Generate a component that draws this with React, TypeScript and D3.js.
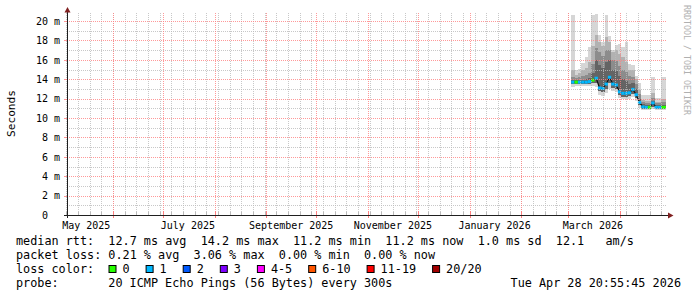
import React from "react";
import * as d3 from "d3";

const WIDTH = 697;
const HEIGHT = 297;
const FONT = "DejaVu Sans Mono, monospace";

// graph covers 360 days ending at the graph timestamp
const END_TIME = new Date(2026, 3, 28, 20, 55, 45);
const START_TIME = new Date(END_TIME.getTime() - 360 * 86400000);

// y axis (milliseconds)
const Y_TICKS = [0, 2, 4, 6, 8, 10, 12, 14, 16, 18, 20];
const Y_TICK_LABELS = ["0", "2 m", "4 m", "6 m", "8 m", "10 m", "12 m", "14 m", "16 m", "18 m", "20 m"];
const Y_MINOR = [1, 3, 5, 7, 9, 11, 13, 15, 17, 19];

// x axis labels (every second month)
const X_LABEL_MONTHS = ["2025-05", "2025-07", "2025-09", "2025-11", "2026-01", "2026-03"];
const X_LABELS = ["May 2025", "July 2025", "September 2025", "November 2025", "January 2026", "March 2026"];

// consolidated 2-day bins of ping data (ms)
const BIN_DAYS = [
  "2026-03-03", "2026-03-05", "2026-03-07", "2026-03-09", "2026-03-11", "2026-03-13", "2026-03-15",
  "2026-03-17", "2026-03-19", "2026-03-21", "2026-03-23", "2026-03-25", "2026-03-27", "2026-03-29",
  "2026-03-31", "2026-04-02", "2026-04-04", "2026-04-06", "2026-04-08", "2026-04-10", "2026-04-12",
  "2026-04-14", "2026-04-16", "2026-04-18", "2026-04-20", "2026-04-22", "2026-04-24", "2026-04-26",
];
const MEDIAN = [13.7, 13.7, 13.7, 13.7, 13.7, 13.75, 13.9, 14.1, 13.1, 13.05, 13.5, 14.2, 13.5, 13.4,
  12.7, 12.55, 12.55, 12.6, 12.95, 12.4, 11.6, 11.15, 11.1, 11.1, 11.55, 11.1, 11.1, 11.1];
const PING_MIN = [13.2, 13.3, 13.3, 13.3, 13.3, 13.3, 13.3, 13.2, 12.4, 12.3, 12.6, 13.0, 12.8, 12.7,
  12.1, 12.0, 12.0, 12.0, 12.2, 11.8, 11.0, 10.8, 10.8, 10.8, 10.9, 10.8, 10.8, 10.8];
const PING_LOW = [13.5, 13.5, 13.5, 13.5, 13.5, 13.5, 13.6, 13.6, 12.8, 12.7, 13.0, 13.6, 13.1, 13.0,
  12.4, 12.2, 12.2, 12.3, 12.5, 12.1, 11.3, 10.95, 10.95, 10.95, 11.1, 10.95, 10.95, 10.95];
const PING_U1 = [13.9, 13.9, 13.9, 13.95, 14.0, 14.1, 14.6, 16.0, 15.5, 15.2, 15.8, 16.0, 15.0, 14.8,
  14.3, 14.0, 13.8, 13.5, 13.6, 13.0, 12.0, 11.4, 11.35, 11.35, 11.8, 11.3, 11.3, 11.35];
const PING_U2 = [14.2, 14.1, 14.2, 14.3, 14.4, 14.6, 15.6, 17.2, 16.8, 16.4, 17.0, 17.0, 16.0, 15.9,
  15.4, 15.0, 14.7, 14.3, 14.2, 13.5, 12.5, 11.6, 11.55, 11.55, 12.1, 11.5, 11.5, 11.6];
const PING_U3 = [15.0, 14.4, 14.6, 14.9, 15.2, 15.8, 17.4, 18.6, 17.8, 17.4, 18.4, 17.8, 16.8, 17.0,
  16.6, 16.3, 15.8, 15.0, 15.0, 14.0, 12.9, 11.9, 11.8, 11.8, 12.6, 11.7, 11.7, 12.0];
const PING_MAX = [20.6, 14.9, 15.1, 15.7, 16.3, 17.3, 20.6, 20.7, 18.6, 17.8, 20.6, 18.5, 17.0, 17.5,
  17.6, 17.3, 17.8, 15.6, 15.5, 14.3, 13.6, 12.4, 12.4, 12.4, 14.2, 12.1, 12.1, 14.2];
// lost pings (out of 20) per bin
const LOSS = [1, 0, 1, 1, 1, 1, 0, 1, 1, 1, 1, 1, 1, 1, 1, 1, 1, 1, 1, 1, 1, 1, 1, 0, 1, 1, 1, 0];

// loss legend
const LOSS_LABELS = ["0", "1", "2", "3", "4-5", "6-10", "11-19", "20/20"];
const LOSS_COLORS = ["#26ff00", "#00b8ff", "#0059ff", "#7e00ff", "#ff00ff", "#ff5500", "#ff0000", "#a10000"];

const LEGEND_LINES = [
  "median rtt:  12.7 ms avg  14.2 ms max  11.2 ms min  11.2 ms now  1.0 ms sd  12.1   am/s",
  "packet loss: 0.21 % avg  3.06 % max  0.00 % min  0.00 % now",
];
const PROBE_TEXT = "20 ICMP Echo Pings (56 Bytes) every 300s";
const STAMP_TEXT = "Tue Apr 28 20:55:45 2026";

const parseDay = (s: string) => {
  const [y, m, d] = s.split("-").map(Number);
  return new Date(y, m - 1, d || 1);
};

function lossIndex(n: number) {
  if (n <= 0) return 0;
  if (n === 1) return 1;
  if (n === 2) return 2;
  if (n === 3) return 3;
  if (n <= 5) return 4;
  if (n <= 10) return 5;
  if (n <= 19) return 6;
  return 7;
}

export default function App() {
  const left = 67;
  const right = 667;
  const bottom = 215;
  const top = 13;

  const x = d3.scaleTime().domain([START_TIME, END_TIME]).range([66, 666]);
  const y = d3.scaleLinear().domain([0, 20.8]).range([215, 13.24]);

  const bins = BIN_DAYS.map((d, i) => {
    const t0 = parseDay(d);
    const t1 = i + 1 < BIN_DAYS.length ? parseDay(BIN_DAYS[i + 1]) : END_TIME;
    return {
      t0, t1,
      med: MEDIAN[i], min: PING_MIN[i], low: PING_LOW[i],
      u1: PING_U1[i], u2: PING_U2[i], u3: PING_U3[i], max: PING_MAX[i],
      loss: LOSS[i],
    };
  });

  const smokeBands: { lo: (b: any) => number; hi: (b: any) => number; color: string }[] = [
    { lo: (b) => b.min, hi: (b) => b.max, color: "#d6d6d6" },
    { lo: (b) => b.low, hi: (b) => b.u3, color: "#b2b2b2" },
    { lo: (b) => b.low, hi: (b) => b.u2, color: "#8c8c8c" },
    { lo: (b) => b.low, hi: (b) => b.u1, color: "#646464" },
  ];

  const majorMonths = d3.timeMonth.range(START_TIME, END_TIME);
  const minorWeeks = d3.timeSunday.range(START_TIME, END_TIME);

  const medLine = d3
    .line<any>()
    .x((b) => (x(b.t0) + x(b.t1)) / 2)
    .y((b) => y(b.med));

  const px = (v: number) => Math.round(v) + 0.5;

  const CH = 7.1;
  const lineY = [245, 259, 273, 287];

  // loss legend positions
  const lossItems: { label: string; color: string; lx: number }[] = [];
  let lx = 16 + 15 * CH;
  LOSS_LABELS.forEach((label, i) => {
    lossItems.push({ label, color: LOSS_COLORS[i], lx });
    lx += label.length * CH + 30;
  });

  return (
    <svg
      width={WIDTH}
      height={HEIGHT}
      style={{ position: "fixed", left: 0, top: 0, background: "#ffffff" }}
      fontFamily={FONT}
    >
      <rect x={0} y={0} width={WIDTH} height={HEIGHT} fill="#ffffff" />

      {/* smoke */}
      {smokeBands.map((band, bi) => (
        <g key={"band" + bi}>
          {bins.map((b, i) => (
            <rect
              key={i}
              x={x(b.t0)}
              width={x(b.t1) - x(b.t0)}
              y={y(band.hi(b))}
              height={y(band.lo(b)) - y(band.hi(b))}
              fill={band.color}
              shapeRendering="crispEdges"
            />
          ))}
        </g>
      ))}

      {/* median line, then loss colour on top */}
      <path d={medLine(bins) || ""} fill="none" stroke="#111111" strokeWidth={1.2} />
      {bins.map((b, i) => (
        <rect
          key={"m" + i}
          x={x(b.t0)}
          width={x(b.t1) - x(b.t0)}
          y={y(b.med) - 1.5}
          height={3}
          fill={LOSS_COLORS[lossIndex(b.loss)]}
        />
      ))}

      {/* grid */}
      <g strokeDasharray="1,1" strokeWidth={1} fill="none">
        {minorWeeks.map((d, i) => (
          <line key={"vw" + i} x1={px(x(d))} x2={px(x(d))} y1={top} y2={bottom} stroke="#BABABA" strokeOpacity={0.8} />
        ))}
        {Y_MINOR.map((v, i) => (
          <line key={"hm" + i} x1={left} x2={right} y1={px(y(v))} y2={px(y(v))} stroke="#BABABA" strokeOpacity={0.8} />
        ))}
        {majorMonths.map((d, i) => (
          <line key={"vm" + i} x1={px(x(d))} x2={px(x(d))} y1={top} y2={bottom} stroke="#FF8080" strokeOpacity={0.8} />
        ))}
        {Y_TICKS.filter((v) => v > 0).map((v, i) => (
          <line key={"hM" + i} x1={left} x2={right} y1={px(y(v))} y2={px(y(v))} stroke="#FF8080" strokeOpacity={0.8} />
        ))}
      </g>

      {/* ticks on axes */}
      {minorWeeks.map((d, i) => (
        <line key={"tw" + i} x1={px(x(d))} x2={px(x(d))} y1={212} y2={215} stroke="#BABABA" />
      ))}
      {majorMonths.map((d, i) => (
        <line key={"tm" + i} x1={px(x(d))} x2={px(x(d))} y1={211} y2={218} stroke="#FF8080" />
      ))}
      {Y_TICKS.map((v, i) => (
        <line key={"ty" + i} x1={64} x2={67} y1={px(y(v))} y2={px(y(v))} stroke="#FF8080" strokeOpacity={0.8} />
      ))}

      {/* axes */}
      <line x1={64} x2={669} y1={215.5} y2={215.5} stroke="#1f1f1f" strokeWidth={1} />
      <line x1={67.5} x2={67.5} y1={218} y2={10} stroke="#1f1f1f" strokeWidth={1} />
      <polygon points="64.5,12.5 70.5,12.5 67.5,7" fill="#802020" />
      <polygon points="668,212.5 668,218.5 673.5,215.5" fill="#802020" />

      {/* y labels */}
      {Y_TICKS.map((v, i) => (
        <text key={"yl" + i} x={v === 0 ? 48 : 60} y={y(v) + 3.7} fontSize={10} textAnchor="end" fill="#000">
          {Y_TICK_LABELS[i]}
        </text>
      ))}

      {/* x labels */}
      {X_LABEL_MONTHS.map((m, i) => {
        const d = parseDay(m);
        const c = new Date(d.getTime() + 15 * 86400000);
        return (
          <text key={"xl" + i} x={x(c)} y={229} fontSize={10} textAnchor="middle" fill="#000">
            {X_LABELS[i]}
          </text>
        );
      })}

      {/* axis title */}
      <text transform="translate(14.5,113.5) rotate(-90)" fontSize={11.1} textAnchor="middle" fill="#000">
        Seconds
      </text>
      <text transform="translate(684,5) rotate(90)" fontSize={8.3} fill="#b0b0b0">
        RRDTOOL / TOBI OETIKER
      </text>

      {/* legend */}
      {LEGEND_LINES.map((s, i) => (
        <text key={"lg" + i} x={16} y={lineY[i]} fontSize={11.8} fill="#000" style={{ whiteSpace: "pre" }}>
          {s}
        </text>
      ))}
      <text x={16} y={lineY[2]} fontSize={11.8} fill="#000">loss color:</text>
      {lossItems.map((it, i) => (
        <g key={"li" + i}>
          <rect x={it.lx - 13.5} y={265.5} width={7} height={7} fill={it.color} stroke="#000" strokeWidth={1} />
          <text x={it.lx} y={lineY[2]} fontSize={11.8} fill="#000">{it.label}</text>
        </g>
      ))}
      <text x={16} y={lineY[3]} fontSize={11.8} fill="#000">probe:</text>
      <text x={16 + 13 * CH} y={lineY[3]} fontSize={11.8} fill="#000">{PROBE_TEXT}</text>
      <text x={681} y={lineY[3]} fontSize={11.8} textAnchor="end" fill="#000">{STAMP_TEXT}</text>
    </svg>
  );
}
